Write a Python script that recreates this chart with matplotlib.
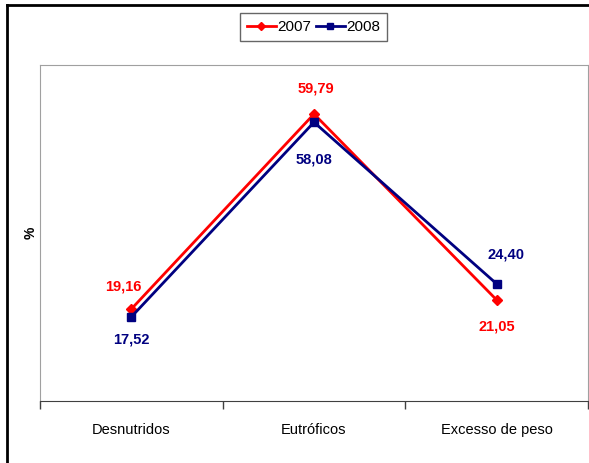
import matplotlib
matplotlib.use("Agg")
import matplotlib.pyplot as plt
from matplotlib.lines import Line2D

narrow = ["Liberation Sans Narrow", "Liberation Sans", "DejaVu Sans"]
plt.rcParams["font.family"] = narrow

categories = ["Desnutridos", "Eutróficos", "Excesso de peso"]
vals_2007 = [19.16, 59.79, 21.05]
vals_2008 = [17.52, 58.08, 24.40]
labels_2007 = ["19,16", "59,79", "21,05"]
labels_2008 = ["17,52", "58,08", "24,40"]

red = "#ff0000"
navy = "#000080"

W, H = 589, 463
fig = plt.figure(figsize=(W / 100, H / 100), dpi=100)
ax = fig.add_axes([40 / W, 1 - 401 / H, 548 / W, 336 / H])

x = list(range(len(categories)))
ax.plot(x, vals_2007, color=red, lw=2, marker="D", ms=5, label="2007", zorder=3)
ax.plot(x, vals_2008, color=navy, lw=2, marker="s", ms=6, label="2008", zorder=3)

# label offsets in pixels (dx, dy)
off_2007 = [(-8, 23), (2, 26), (0, -27)]
off_2008 = [(0, -23), (0, -37), (9, 29)]
for i in x:
    ax.annotate(labels_2007[i], (x[i], vals_2007[i]), xytext=off_2007[i],
                textcoords="offset pixels", ha="center", va="center",
                color=red, fontsize=10.5, fontweight="bold")
    ax.annotate(labels_2008[i], (x[i], vals_2008[i]), xytext=off_2008[i],
                textcoords="offset pixels", ha="center", va="center",
                color=navy, fontsize=10.5, fontweight="bold")

ax.set_xlim(-0.5, 2.5)
ax.set_ylim(0, 70)
ax.set_yticks([])
ax.set_xticks(x)
ax.set_xticklabels(categories, fontsize=10.5)
ax.set_xticks([-0.5, 0.5, 1.5, 2.5], minor=True)
ax.tick_params(axis="x", which="major", length=0, pad=16)
ax.tick_params(axis="x", which="minor", length=6, width=1, color="#404040")
for s in ["left", "top", "right"]:
    ax.spines[s].set_color("#a0a0a0")
ax.spines["bottom"].set_color("#404040")
ax.set_ylabel("%", fontsize=10, fontweight="bold", labelpad=2)

leg = ax.legend(loc="center", bbox_to_anchor=(313.5 / W, 1 - 27 / H),
                bbox_transform=fig.transFigure, ncol=2, fontsize=11,
                frameon=True, fancybox=False, handlelength=1.9,
                handletextpad=0.1, columnspacing=0.3, borderpad=0.45,
                borderaxespad=0, markerscale=0.8)
leg.get_frame().set_edgecolor("#404040")
leg.get_frame().set_linewidth(1)

# outer border (left and top visible)
fig.add_artist(Line2D([7 / W, 7 / W], [0, 1 - 5 / H], color="black", lw=2,
                      transform=fig.transFigure))
fig.add_artist(Line2D([7 / W, 588 / W], [1 - 5 / H, 1 - 5 / H], color="black",
                      lw=2, transform=fig.transFigure))

fig.savefig("out.png", dpi=100)
